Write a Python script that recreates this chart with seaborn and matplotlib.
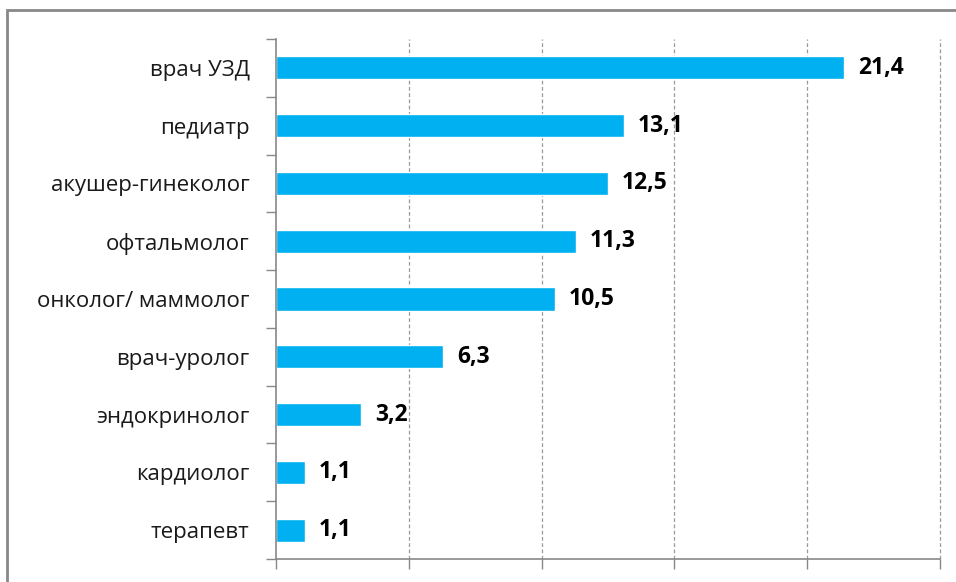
import numpy as np
import pandas as pd
import seaborn as sns
import matplotlib.pyplot as plt
from matplotlib.patches import Rectangle
from matplotlib.ticker import FixedLocator

specialists = ["врач УЗД", "педиатр", "акушер-гинеколог", "офтальмолог",
               "онколог/ маммолог", "врач-уролог", "эндокринолог",
               "кардиолог", "терапевт"]
values = [21.4, 13.1, 12.5, 11.3, 10.5, 6.3, 3.2, 1.1, 1.1]

df = pd.DataFrame({"spec": specialists, "val": values})

sns.set_style("white")
plt.rcParams['font.family'] = ['Open Sans', 'DejaVu Sans']

fig = plt.figure(figsize=(9.56, 5.82), dpi=100)
ax = fig.add_axes([0.2887, 0.0395, 0.6946, 0.8935])

sns.barplot(data=df, x="val", y="spec", orient="h", color="#00B0F0",
            width=0.4, saturation=1, ax=ax)

ax.set_xlim(0, 25)
ax.set_ylim(len(specialists) - 0.5, -0.5)
ax.set_xlabel("")
ax.set_ylabel("")
ax.set_xticks([0, 5, 10, 15, 20, 25])
ax.set_xticklabels([])
ax.tick_params(axis="x", length=7, width=1, color="#888888", direction="out", bottom=True)
ax.tick_params(axis="y", which="major", length=0, labelsize=16, pad=19, labelcolor="#1a1a1a")
ax.yaxis.set_minor_locator(FixedLocator(np.arange(-0.5, len(specialists), 1.0)))
ax.tick_params(axis="y", which="minor", length=7, width=1, color="#888888", direction="out", left=True)

for x in [5, 10, 15, 20, 25]:
    ax.axvline(x, color="#999999", lw=0.9, ls=(0, (3, 2)), zorder=0, clip_on=False)

for s in ["top", "right"]:
    ax.spines[s].set_visible(False)
for s in ["left", "bottom"]:
    ax.spines[s].set_color("#888888")
    ax.spines[s].set_linewidth(1.2)

ax.bar_label(ax.containers[0], labels=[f"{v:.1f}".replace(".", ",") for v in values],
             padding=10, fontsize=16.5, fontweight="bold", color="black")

fig.patches.append(Rectangle((7 / 956, -0.1), 1.2, 1 - 10 / 582 + 0.1,
                             transform=fig.transFigure, fill=False,
                             edgecolor="#888888", lw=2, figure=fig))

fig.savefig("out.png", dpi=100)
